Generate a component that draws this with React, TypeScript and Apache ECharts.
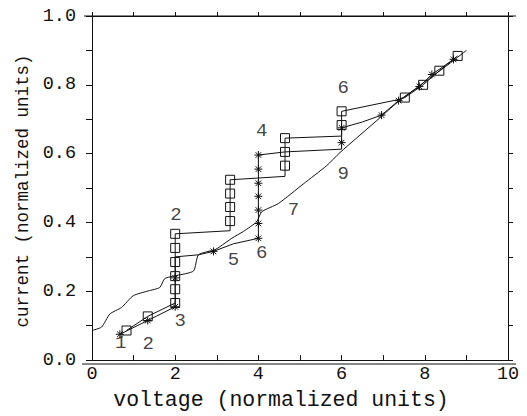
import React, { useEffect, useRef } from "react";
import * as echarts from "echarts";

// [x, y, hasMarker]
const squarePts: [number, number, number][] = [
  [0.83, 0.086, 1], [1.34, 0.127, 1], [2.0, 0.166, 1], [2.0, 0.206, 1], [2.0, 0.244, 1],
  [2.0, 0.285, 1], [2.0, 0.326, 1], [2.0, 0.367, 1], [3.32, 0.376, 0], [3.32, 0.404, 1],
  [3.32, 0.445, 1], [3.32, 0.484, 1], [3.32, 0.524, 1], [4.64, 0.534, 0], [4.64, 0.565, 1],
  [4.64, 0.605, 1], [4.64, 0.645, 1], [6.0, 0.651, 0], [6.0, 0.683, 1], [6.0, 0.723, 1],
  [7.36, 0.757, 0], [7.52, 0.763, 1], [7.96, 0.8, 1], [8.35, 0.841, 1], [8.79, 0.884, 1],
];

const starPts: [number, number, number][] = [
  [0.67, 0.075, 1], [1.34, 0.115, 1], [2.0, 0.155, 1], [2.0, 0.239, 1], [2.0, 0.3, 0],
  [2.56, 0.306, 0], [2.92, 0.316, 1], [3.4, 0.338, 0], [4.0, 0.354, 1], [4.0, 0.397, 1],
  [4.0, 0.436, 1], [4.0, 0.476, 1], [4.0, 0.514, 1], [4.0, 0.555, 1], [4.0, 0.596, 1],
  [4.64, 0.605, 0], [6.0, 0.613, 0], [6.0, 0.632, 1], [6.0, 0.675, 1], [6.5, 0.692, 0],
  [6.96, 0.712, 1], [7.37, 0.754, 1], [7.87, 0.795, 1], [8.17, 0.83, 1], [8.69, 0.874, 1],
];

const curvePts: [number, number][] = [
  [0, 0.086], [0.23, 0.096], [0.43, 0.134], [0.71, 0.153], [0.99, 0.187], [1.35, 0.201],
  [1.63, 0.211], [1.75, 0.237], [2.04, 0.246], [2.44, 0.259], [2.56, 0.306], [2.96, 0.321],
  [3.08, 0.33], [3.36, 0.354], [3.64, 0.374], [3.96, 0.402], [4.08, 0.431], [4.48, 0.455],
  [5.08, 0.512], [5.64, 0.565], [5.96, 0.603], [6.92, 0.704], [7.32, 0.747], [7.9, 0.8],
  [8.5, 0.853], [9.0, 0.9],
];

const labelTexts = ["1", "2", "3", "2", "5", "6", "7", "4", "9", "6"];
const labelPts: [number, number][] = [
  [0.69, 0.05], [1.35, 0.048], [2.12, 0.115], [2.02, 0.421], [3.4, 0.292],
  [4.08, 0.311], [4.84, 0.436], [4.08, 0.666], [6.04, 0.541], [6.04, 0.79],
];

const xName = "voltage (normalized units)";
const yName = "current (normalized units)";

const FONT = "Liberation Mono";
const INK = "#111";

const STAR = "path://M0,5L10,5M5,0L5,10M1.5,1.5L8.5,8.5M8.5,1.5L1.5,8.5";

const W = 527, H = 416;
const G = { left: 92, right: 19, top: 16, bottom: 52 };

function toData(pts: [number, number, number][]) {
  return pts.map(([x, y, m]) => (m ? { value: [x, y] } : { value: [x, y], symbol: "none" }));
}

export default function App() {
  const ref = useRef<HTMLDivElement>(null);
  useEffect(() => {
    document.body.style.margin = "0";
    const chart = echarts.init(ref.current!, null, { renderer: "svg" });
    const axisLine = { onZero: false, lineStyle: { color: INK, width: 1 } };
    const labelStyle = { color: INK, fontFamily: FONT, fontSize: 18.5 };
    const x0 = G.left, x1 = W - G.right, yTop = G.top, yBot = H - G.bottom;
    chart.setOption({
      animation: false,
      backgroundColor: "#fff",
      grid: { ...G, containLabel: false },
      graphic: [
        { type: "line", shape: { x1: x0 - 8, y1: yTop, x2: x1 + 8, y2: yTop }, style: { stroke: INK, lineWidth: 1 } },
        { type: "line", shape: { x1: x0 - 10, y1: yBot, x2: x1 + 8, y2: yBot }, style: { stroke: INK, lineWidth: 1 } },
      ],
      xAxis: [
        {
          type: "value", min: 0, max: 10, interval: 1, position: "bottom",
          axisLine, splitLine: { show: false },
          axisTick: { inside: true, length: 5, lineStyle: { color: INK } },
          axisLabel: { ...labelStyle, margin: 5, formatter: (v: number) => (Math.round(v) % 2 === 0 ? String(v) : "") },
          name: xName, nameLocation: "middle", nameGap: 25,
          nameTextStyle: { color: INK, fontFamily: FONT, fontSize: 21.5, padding: [0, 38, 0, 0] },
        },
        {
          type: "value", min: 0, max: 10, interval: 1, position: "top",
          axisLine, splitLine: { show: false },
          axisTick: { inside: false, length: 4, lineStyle: { color: INK } },
          axisLabel: { show: false },
        },
      ],
      yAxis: [
        {
          type: "value", min: 0, max: 1, interval: 0.1, position: "left",
          axisLine, splitLine: { show: false },
          axisTick: { inside: false, length: 6, lineStyle: { color: INK } },
          axisLabel: {
            ...labelStyle, margin: 16,
            formatter: (v: number) => (Math.round(v * 10) % 2 === 0 ? v.toFixed(1) : ""),
          },
          name: yName, nameLocation: "middle", nameGap: 55,
          nameTextStyle: { color: INK, fontFamily: FONT, fontSize: 17.5, padding: [0, 6, 0, 0] },
        },
        {
          type: "value", min: 0, max: 1, interval: 0.1, position: "right",
          axisLine, splitLine: { show: false },
          axisTick: { inside: false, length: 5, lineStyle: { color: INK } },
          axisLabel: { show: false },
        },
      ],
      series: [
        {
          type: "line", data: curvePts, showSymbol: false, symbol: "none", smooth: 0.2,
          lineStyle: { color: INK, width: 1 },
        },
        {
          type: "line", data: toData(starPts), symbol: STAR, symbolSize: 8,
          lineStyle: { color: INK, width: 1 },
          itemStyle: { color: "rgba(0,0,0,0)", borderColor: INK, borderWidth: 1 },
        },
        {
          type: "line", data: toData(squarePts), symbol: "rect", symbolSize: 9,
          lineStyle: { color: INK, width: 1 },
          itemStyle: { color: "rgba(0,0,0,0)", borderColor: INK, borderWidth: 1 },
        },
        {
          type: "scatter", data: labelPts, symbolSize: 1,
          itemStyle: { color: "rgba(0,0,0,0)" },
          label: {
            show: true, position: "inside", color: INK, fontFamily: FONT, fontSize: 19,
            formatter: (p: any) => labelTexts[p.dataIndex],
          },
        },
      ],
    });
    return () => chart.dispose();
  }, []);
  return <div ref={ref} style={{ position: "fixed", left: 0, top: 0, width: W, height: H }} />;
}
